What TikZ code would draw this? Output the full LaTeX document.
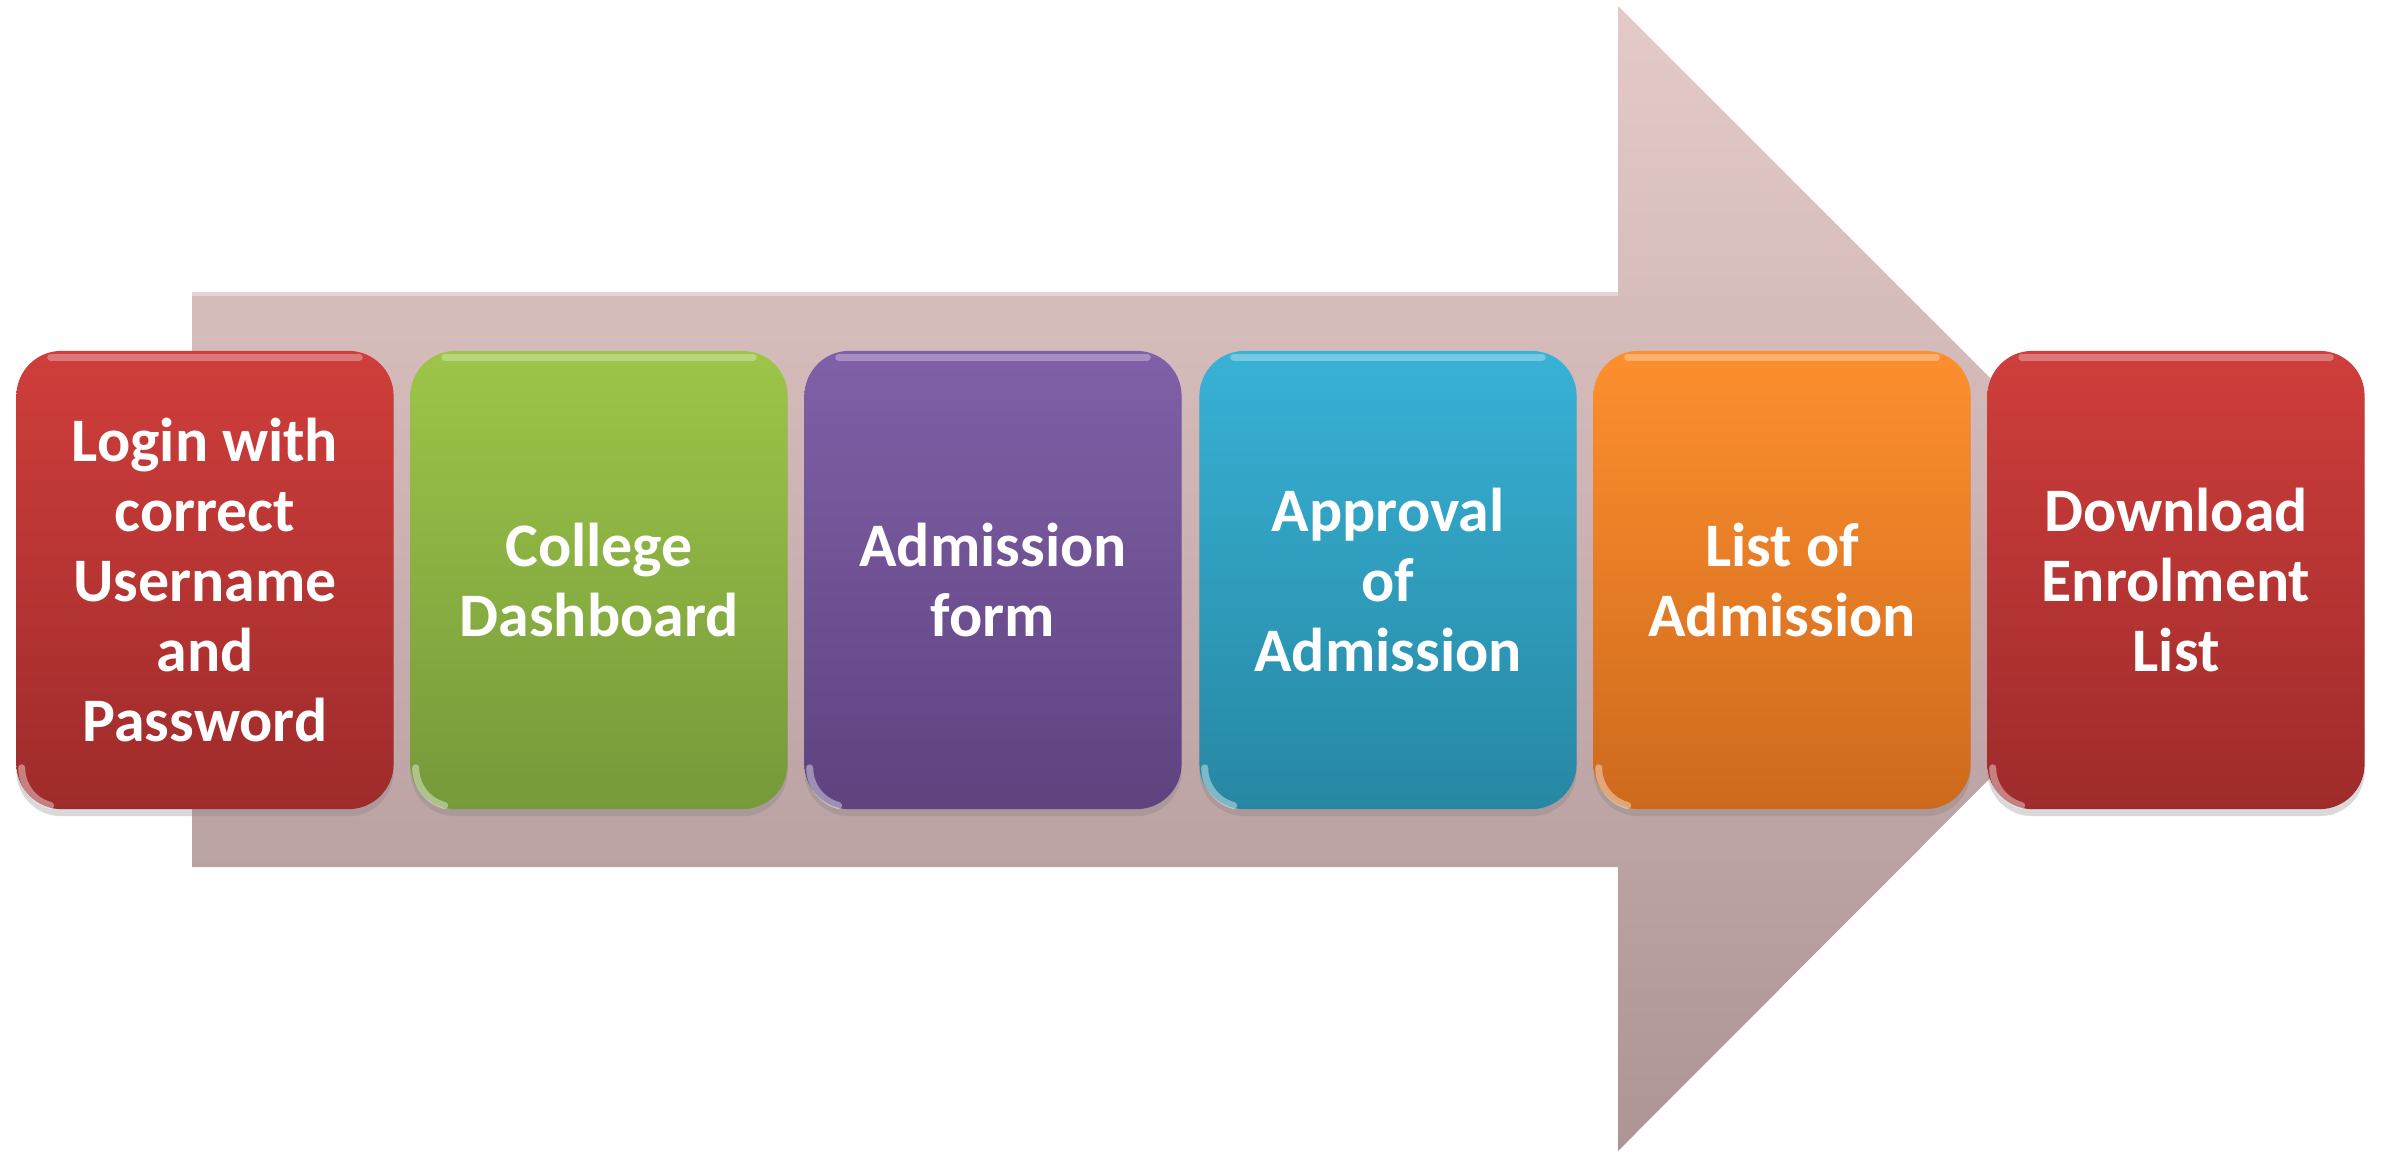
\documentclass[tikz,border=0pt]{standalone}
\usepackage{fontspec}
\setmainfont{Carlito}
\usetikzlibrary{shadows}
\definecolor{arrowtop}{HTML}{E6CACA}
\definecolor{arrowbot}{HTML}{AD9595}
\definecolor{redtop}{HTML}{CF3E3B}
\definecolor{redbot}{HTML}{9E2B2B}
\definecolor{greentop}{HTML}{9DC549}
\definecolor{greenbot}{HTML}{76993A}
\definecolor{purpletop}{HTML}{8060A8}
\definecolor{purplebot}{HTML}{5E437F}
\definecolor{tealtop}{HTML}{38B2D6}
\definecolor{tealbot}{HTML}{2787A3}
\definecolor{orangetop}{HTML}{FD8F2E}
\definecolor{orangebot}{HTML}{CE6A1D}
\begin{document}
\begin{tikzpicture}[x=0.01cm,y=-0.01cm,
  stepbox/.style={rounded corners=0.45cm, minimum width=3.77cm, minimum height=4.58cm,
    align=center, inner sep=0pt, text=white,
    font=\bfseries\fontsize{17.6}{19.9}\selectfont,
    drop shadow={opacity=0.3, shadow xshift=0pt, shadow yshift=-2pt}},
  redbox/.style={stepbox, top color=redtop, bottom color=redbot},
  greenbox/.style={stepbox, top color=greentop, bottom color=greenbot},
  purplebox/.style={stepbox, top color=purpletop, bottom color=purplebot},
  tealbox/.style={stepbox, top color=tealtop, bottom color=tealbot},
  orangebox/.style={stepbox, top color=orangetop, bottom color=orangebot},
  gloss/.style={white, opacity=0.3, line width=0.07cm, line cap=round}]
\useasboundingbox (0,0) rectangle (2387,1151);
% big background arrow
\path[top color=arrowtop, bottom color=arrowbot]
  (192,292) -- (1618,292) -- (1618,6) -- (2190,578) -- (1618,1151) -- (1618,867) -- (192,867) -- cycle;
\draw[white, opacity=0.35, line width=0.04cm] (192,294) -- (1618,294);
% steps
\node[redbox]    (b1) at (205,580)  {Login with\\correct\\Username\\and\\Password};
\node[greenbox]  (b2) at (599,580)  {College\\Dashboard};
\node[purplebox] (b3) at (993,580)  {Admission\\form};
\node[tealbox]   (b4) at (1388,580) {Approval\\of\\Admission};
\node[orangebox] (b5) at (1782,580) {List of\\Admission};
\node[redbox]    (b6) at (2176,580) {Download\\Enrolment\\List};
\foreach \n in {b1,b2,b3,b4,b5,b6} {
  \draw[gloss] ([xshift=0.35cm,yshift=-0.07cm]\n.north west) -- ([xshift=-0.35cm,yshift=-0.07cm]\n.north east);
  \draw[gloss, opacity=0.4] ([xshift=0.06cm,yshift=0.42cm]\n.south west) arc[start angle=180, end angle=255, radius=0.39cm];
}
\end{tikzpicture}
\end{document}
